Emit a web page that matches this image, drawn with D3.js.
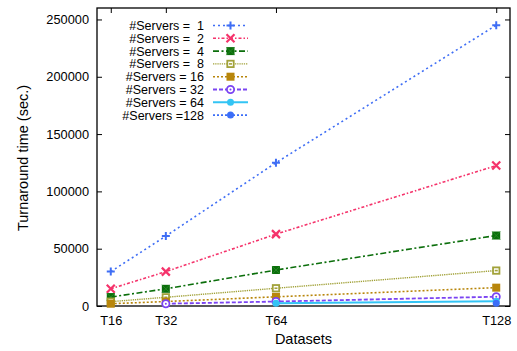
<!DOCTYPE html>
<html>
<head>
<meta charset="utf-8">
<script src="https://cdn.jsdelivr.net/npm/d3@7"></script>
<style>
  html, body { margin: 0; padding: 0; background: #fff; }
  svg { display: block; font-family: "Liberation Sans", Arial, sans-serif; }
</style>
</head>
<body>
<svg id="chart" width="517" height="351"></svg>
<script>
// Dataset sizes (x positions) and their tick labels
const datasets = [16, 32, 64, 128];
const datasetLabels = ["T16", "T32", "T64", "T128"];
const yTicks = [0, 50000, 100000, 150000, 200000, 250000];

// Turnaround time (sec.) per server count; null = not run
const servers1   = [30000, 61000, 125000, 245000];
const servers2   = [15000, 30000, 62700, 122500];
const servers4   = [7800, 15000, 31400, 61500];
const servers8   = [3800, 7600, 15500, 30900];
const servers16  = [2000, 3900, 8000, 16000];
const servers32  = [null, 2000, 3900, 8100];
const servers64  = [null, null, 2300, 4200];
const servers128 = [null, null, null, 2300];

const seriesLabels = ["#Servers =  1", "#Servers =  2", "#Servers =  4", "#Servers =  8",
                      "#Servers = 16", "#Servers = 32", "#Servers = 64", "#Servers =128"];
const seriesValues = [servers1, servers2, servers4, servers8, servers16, servers32, servers64, servers128];

const styles = [
  { color: "#3f6ef5", dash: "2,3",       width: 1.6, marker: "plus" },
  { color: "#f5336b", dash: "3,2,1.5,2", width: 1.6, marker: "cross" },
  { color: "#0b6e0b", dash: "6,2.5,2,2.5", width: 1.6, marker: "boxx" },
  { color: "#a2a23a", dash: "1.3,0.9",   width: 1.4, marker: "hollowbox" },
  { color: "#b8860b", dash: "2,2",       width: 1.6, marker: "box" },
  { color: "#7b44f2", dash: "4,2",       width: 1.8, marker: "ring" },
  { color: "#33c4f4", dash: null,        width: 2.0, marker: "dot" },
  { color: "#3b6ef8", dash: "2,2",       width: 1.6, marker: "dot" }
];

const svg = d3.select("#chart");
const margin = { left: 97, right: 7, top: 8, bottom: 45 };
const W = 517, H = 351;

const x = d3.scaleLinear().domain([12, 132]).range([margin.left, W - margin.right]);
const y = d3.scaleLinear().domain([0, 260000]).range([H - margin.bottom, margin.top]);

const tickLen = 5;

// axes: ticks point inward, mirrored on the opposite side
const gx = svg.append("g").attr("transform", `translate(0,${y(0)})`)
  .call(d3.axisBottom(x).tickValues(datasets).tickFormat((d, i) => datasetLabels[i]).tickSizeInner(-tickLen).tickSizeOuter(0).tickPadding(10));
const gxTop = svg.append("g").attr("transform", `translate(0,${margin.top})`)
  .call(d3.axisTop(x).tickValues(datasets).tickFormat("").tickSizeInner(-tickLen).tickSizeOuter(0));
const gy = svg.append("g").attr("transform", `translate(${margin.left},0)`)
  .call(d3.axisLeft(y).tickValues(yTicks).tickFormat(d3.format("d")).tickSizeInner(-tickLen).tickSizeOuter(0).tickPadding(8));
const gyR = svg.append("g").attr("transform", `translate(${W - margin.right},0)`)
  .call(d3.axisRight(y).tickValues(yTicks).tickFormat("").tickSizeInner(-tickLen).tickSizeOuter(0));

[gx, gxTop, gy, gyR].forEach(g => {
  g.select(".domain").remove();
  g.selectAll(".tick line").attr("stroke", "#000").attr("stroke-width", 1);
  g.selectAll(".tick text").attr("fill", "#000").style("font-size", "12.8px");
});

// plot border
svg.append("rect")
  .attr("x", margin.left).attr("y", margin.top)
  .attr("width", W - margin.right - margin.left).attr("height", y(0) - margin.top)
  .attr("fill", "none").attr("stroke", "#000").attr("stroke-width", 1.3);

// axis titles
svg.append("text").attr("x", x(72)).attr("y", 344)
  .attr("text-anchor", "middle").style("font-size", "14.5px").text("Datasets");
svg.append("text").attr("transform", `translate(28,${(margin.top + y(0)) / 2 + 1}) rotate(-90)`)
  .attr("text-anchor", "middle").style("font-size", "14.5px").text("Turnaround time (sec.)");

function drawMarker(g, type, color, cx, cy) {
  const s = 4;
  if (type === "plus") {
    g.append("path").attr("d", `M${cx - s},${cy}H${cx + s}M${cx},${cy - s}V${cy + s}`)
      .attr("stroke", color).attr("stroke-width", 2).attr("fill", "none");
  } else if (type === "cross") {
    g.append("path").attr("d", `M${cx - s},${cy - s}L${cx + s},${cy + s}M${cx - s},${cy + s}L${cx + s},${cy - s}`)
      .attr("stroke", color).attr("stroke-width", 2.2).attr("fill", "none");
  } else if (type === "boxx") {
    g.append("rect").attr("x", cx - s).attr("y", cy - s).attr("width", 2 * s).attr("height", 2 * s)
      .attr("fill", color);
    g.append("path").attr("d", `M${cx - s},${cy - s}L${cx + s},${cy + s}M${cx - s},${cy + s}L${cx + s},${cy - s}`)
      .attr("stroke", "#2a8a2a").attr("stroke-width", 0.8);
  } else if (type === "hollowbox") {
    g.append("rect").attr("x", cx - s + 0.8).attr("y", cy - s + 0.8).attr("width", 2 * s - 1.6).attr("height", 2 * s - 1.6)
      .attr("fill", "#fff").attr("stroke", color).attr("stroke-width", 1.8);
    g.append("rect").attr("x", cx - 1.5).attr("y", cy - 0.8).attr("width", 3).attr("height", 1.6).attr("fill", color);
  } else if (type === "box") {
    g.append("rect").attr("x", cx - s).attr("y", cy - s).attr("width", 2 * s).attr("height", 2 * s)
      .attr("fill", color);
  } else if (type === "ring") {
    g.append("circle").attr("cx", cx).attr("cy", cy).attr("r", 3.6)
      .attr("fill", "#fff").attr("stroke", color).attr("stroke-width", 1.8);
    g.append("circle").attr("cx", cx).attr("cy", cy).attr("r", 1).attr("fill", color);
  } else if (type === "dot") {
    g.append("circle").attr("cx", cx).attr("cy", cy).attr("r", 3.5).attr("fill", color);
  }
}

const line = d3.line()
  .defined(d => d.v != null)
  .x(d => x(d.x)).y(d => y(d.v));

const plot = svg.append("g");
seriesValues.forEach((vals, i) => {
  const st = styles[i];
  const pts = vals.map((v, j) => ({ x: datasets[j], v }));
  plot.append("path").datum(pts)
    .attr("d", line)
    .attr("fill", "none").attr("stroke", st.color).attr("stroke-width", st.width)
    .attr("stroke-dasharray", st.dash);
  pts.filter(p => p.v != null).forEach(p => drawMarker(plot, st.marker, st.color, x(p.x), y(p.v)));
});

// legend
const legend = svg.append("g");
seriesLabels.forEach((lab, i) => {
  const st = styles[i];
  const ly = 25.5 + i * 12.8;
  legend.append("text").attr("x", 204).attr("y", ly + 4.5)
    .attr("text-anchor", "end").style("font-size", "12.5px").style("white-space", "pre")
    .attr("xml:space", "preserve").text(lab);
  legend.append("line").attr("x1", 213).attr("x2", 248).attr("y1", ly).attr("y2", ly)
    .attr("stroke", st.color).attr("stroke-width", st.width).attr("stroke-dasharray", st.dash);
  drawMarker(legend, st.marker, st.color, 230.5, ly);
});
</script>
</body>
</html>
